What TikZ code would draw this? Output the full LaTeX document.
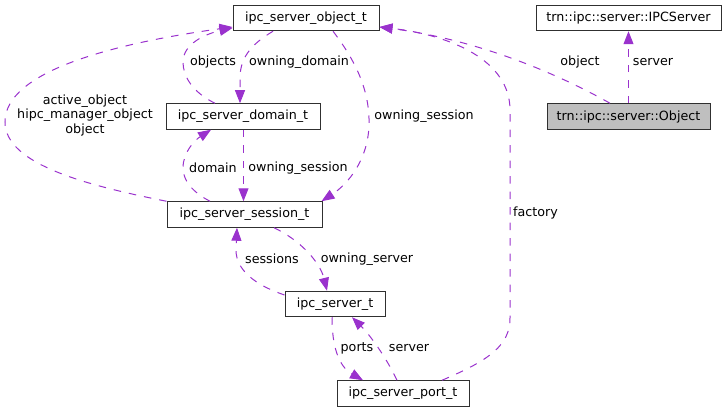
\documentclass[tikz,border=0pt]{standalone}
\usepackage{fontspec}
\setmainfont{DejaVu Sans}
\usetikzlibrary{arrows.meta}
\definecolor{edgecol}{HTML}{9A32CD}
\definecolor{graybox}{HTML}{BFBFBF}
\definecolor{boxline}{HTML}{303030}
\tikzset{
  cls/.style={draw=boxline, line width=1pt, fill=white, inner sep=0pt, minimum height=25.5pt, font=\fontsize{12.7}{14}\selectfont},
  lbl/.style={inner sep=0pt, font=\fontsize{12.7}{14.5}\selectfont, align=center},
  rel/.style={draw=edgecol, line width=1pt, dash pattern=on 7.5pt off 8pt, -{Triangle[length=13pt,width=10pt,fill=edgecol]}}
}
\begin{document}
\begin{tikzpicture}[x=1pt,y=-1pt]
\useasboundingbox (0,0) rectangle (726,412);
% nodes
\node[cls, minimum width=146pt] (objt) at (306,18) {ipc\_server\_object\_t};
\node[cls, minimum width=185pt] (ipcs) at (628.5,18) {trn::ipc::server::IPCServer};
\node[cls, minimum width=163pt, fill=graybox] (objb) at (628.5,116.5) {trn::ipc::server::Object};
\node[cls, minimum width=154pt] (domt) at (243,116.5) {ipc\_server\_domain\_t};
\node[cls, minimum width=155pt] (sest) at (244.5,214.5) {ipc\_server\_session\_t};
\node[cls, minimum width=100pt] (servt) at (335,304) {ipc\_server\_t};
\node[cls, minimum width=132pt] (portt) at (403,393.5) {ipc\_server\_port\_t};
% edges
% owning_domain
\draw[rel] ([xshift=-33pt]objt.south) .. controls (255,42) and (240,55) .. (240,78) -- ([xshift=-3pt]domt.north);
% objects
\draw[rel] ([xshift=-28pt]domt.north) .. controls (192,92) and (183,76) .. (183,62) .. controls (183,44) and (205,34) .. ([yshift=-10pt]objt.west);
% active_object etc.
\draw[rel] (sest.north west) .. controls (90,186) and (5,165) .. (5,122) .. controls (5,72) and (110,44) .. ([yshift=-9pt]objt.west);
% owning_session (object -> session)
\draw[rel] ([xshift=27pt]objt.south) .. controls (355,60) and (370,90) .. (369,125) .. controls (368,160) and (348,184) .. ([xshift=-1pt]sest.north east);
% owning_session (domain -> session)
\draw[rel] ([xshift=0.5pt]domt.south) -- ([xshift=-1pt]sest.north);
% domain
\draw[rel] ([xshift=-34.5pt]sest.north) .. controls (192,192) and (183,180) .. (183,168) .. controls (183,152) and (195,140) .. ([xshift=-32pt]domt.south);
% owning_server
\draw[rel] ([xshift=29.5pt]sest.south) .. controls (300,240) and (320,262) .. ([xshift=-8pt]servt.north);
% sessions
\draw[rel] ([yshift=9pt]servt.west) .. controls (255,285) and (236,270) .. (236,250) -- ([xshift=-7.5pt]sest.south);
% ports
\draw[rel] ([xshift=-3pt]servt.south) .. controls (332,345) and (338,366) .. ([xshift=-40pt]portt.north);
% server (port -> server)
\draw[rel] ([xshift=-6pt]portt.north) .. controls (386,357) and (370,335) .. ([xshift=17pt]servt.south);
% factory
\draw[rel] ([xshift=39pt]portt.north) .. controls (490,360) and (510,345) .. (510,318) -- (510,110) .. controls (510,60) and (450,35) .. ([yshift=-9pt]objt.east);
% object
\draw[rel] ([xshift=-18.5pt]objb.north) .. controls (560,75) and (480,40) .. ([yshift=-9pt]objt.east);
% server (Object -> IPCServer)
\draw[rel] (objb.north) -- (ipcs.south);
% labels
\node[lbl] (l1) at (299,62) {owning\_domain};
\node[lbl] (l2) at (213,62) {objects};
\node[lbl] (l3) at (85,115) {active\_object\\hipc\_manager\_object\\object};
\node[lbl] (l4) at (424,116) {owning\_session};
\node[lbl] (l5) at (298,168) {owning\_session};
\node[lbl] (l6) at (213,168) {domain};
\node[lbl] (l7) at (367,259) {owning\_server};
\node[lbl] (l8) at (272,259) {sessions};
\node[lbl] (l9) at (357,348) {ports};
\node[lbl] (l10) at (409,348) {server};
\node[lbl, anchor=west] (l11) at (513,213) {factory};
\node[lbl] (l12) at (580,62) {object};
\node[lbl] (l13) at (653,62) {server};
\end{tikzpicture}
\end{document}
